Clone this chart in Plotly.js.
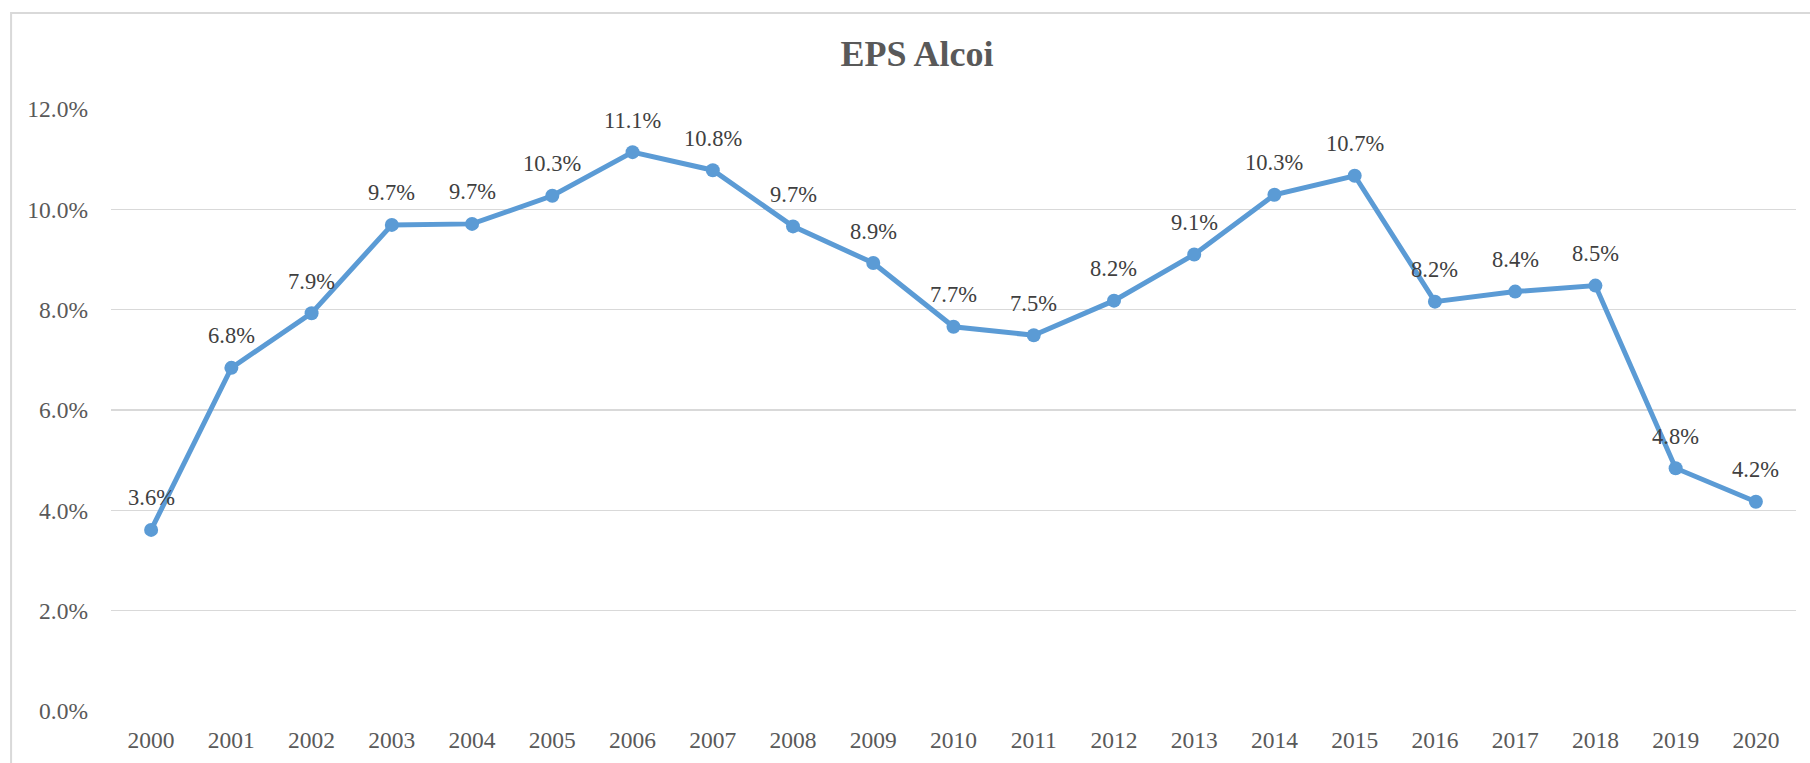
<!DOCTYPE html>
<html>
<head>
<meta charset="utf-8">
<script src="https://cdn.plot.ly/plotly-3.0.1.min.js"></script>
<style>
  html, body { margin: 0; padding: 0; background: #ffffff; }
  #chart { width: 1810px; height: 763px; }
</style>
</head>
<body>
<div id="chart"></div>
<script>
const years = ["2000","2001","2002","2003","2004","2005","2006","2007","2008","2009","2010",
               "2011","2012","2013","2014","2015","2016","2017","2018","2019","2020"];
const eps = [0.0361, 0.0684, 0.0793, 0.0969, 0.0971, 0.1027, 0.1114, 0.1078, 0.0966, 0.0893, 0.0766,
             0.0749, 0.0818, 0.0910, 0.1029, 0.1067, 0.0816, 0.0836, 0.0848, 0.0484, 0.0417];
const yTicks = [0, 0.02, 0.04, 0.06, 0.08, 0.10, 0.12];
const yTickLabels = ["0.0%", "2.0%", "4.0%", "6.0%", "8.0%", "10.0%", "12.0%"];
const chartTitle = "EPS Alcoi";

const serif = "Liberation Serif, Times New Roman, serif";

const trace = {
  x: years,
  y: eps,
  type: "scatter",
  mode: "lines+markers",
  line: { color: "#5B9BD5", width: 5 },
  marker: { color: "#5B9BD5", size: 14 },
  hoverinfo: "x+y",
  cliponaxis: false,
  showlegend: false
};

// data labels: one per point, positioned on the category index of each year
const labels = years.map((yr, i) => ({
  x: i,
  y: eps[i],
  xref: "x",
  yref: "y",
  text: (eps[i] * 100).toFixed(1) + "%",
  showarrow: false,
  xanchor: "center",
  yanchor: "middle",
  yshift: 32,
  font: { family: serif, size: 22.5, color: "#404040" }
}));

const layout = {
  width: 1810,
  height: 763,
  margin: { l: 111, r: 14, t: 109, b: 52 },
  paper_bgcolor: "#ffffff",
  plot_bgcolor: "#ffffff",
  title: {
    text: "<b>" + chartTitle + "</b>",
    font: { family: serif, size: 36, color: "#595959" },
    xref: "container", x: 0.5066, xanchor: "center",
    yref: "container", y: 0.93, yanchor: "middle"
  },
  xaxis: {
    type: "category",
    range: [-0.5, 20.5],
    showgrid: false,
    zeroline: false,
    showline: false,
    ticks: "",
    ticklabelstandoff: 12,
    tickfont: { family: serif, size: 23.5, color: "#595959" }
  },
  yaxis: {
    range: [0, 0.12],
    tickvals: yTicks,
    ticktext: yTickLabels,
    showgrid: true,
    gridcolor: "#d9d9d9",
    gridwidth: 1.5,
    zeroline: false,
    showline: false,
    ticks: "",
    ticklabelstandoff: 22,
    tickfont: { family: serif, size: 23.5, color: "#595959" }
  },
  annotations: labels,
  shapes: [{
    type: "rect",
    xref: "paper", yref: "paper",
    x0: -0.0593, x1: 1.2, y0: -0.3, y1: 1.1596,
    line: { color: "#d9d9d9", width: 2 },
    fillcolor: "rgba(0,0,0,0)",
    layer: "below"
  }]
};

Plotly.newPlot("chart", [trace], layout, { displayModeBar: false, staticPlot: true });
</script>
</body>
</html>
